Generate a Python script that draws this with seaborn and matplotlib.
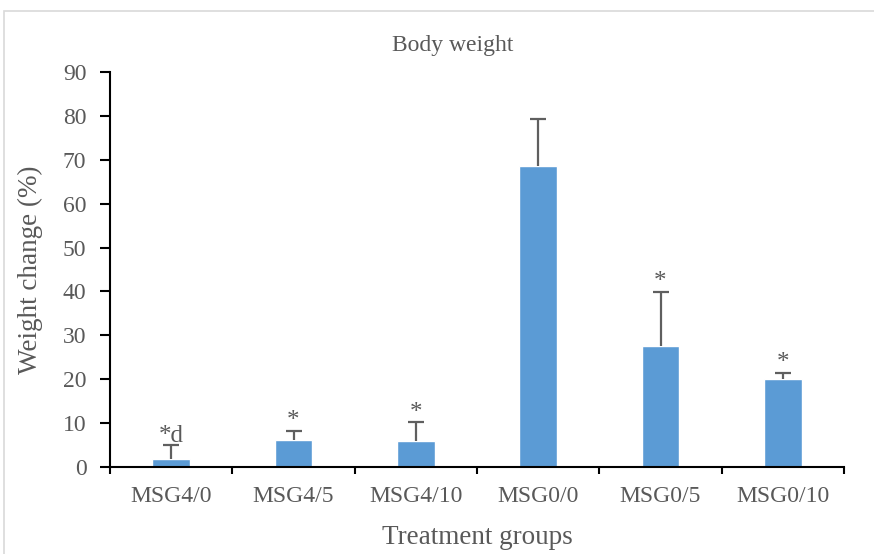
import numpy as np
import pandas as pd
import seaborn as sns
import matplotlib.pyplot as plt
from matplotlib.patches import Rectangle
from matplotlib.ticker import FixedLocator

# values
groups = ['MSG4/0', 'MSG4/5', 'MSG4/10', 'MSG0/0', 'MSG0/5', 'MSG0/10']
weight_change = [1.8, 6.1, 6.0, 68.6, 27.5, 20.1]
error_up = [3.1, 2.1, 4.2, 10.7, 12.4, 1.4]
marks = ['*d', '*', '*', '', '*', '*']

df = pd.DataFrame({'group': groups, 'change': weight_change})

sns.set_style('white')
plt.rcParams['font.family'] = ['Liberation Serif', 'DejaVu Serif']
text_col = '#595959'

fig = plt.figure(figsize=(8.74, 5.54), dpi=100)
ax = fig.add_axes([110 / 874, 1 - 467 / 554, (844 - 110) / 874, (467 - 72) / 554])

sns.barplot(data=df, x='group', y='change', color='#5B9BD5', width=0.31,
            saturation=1, ax=ax)

xpos = np.arange(len(groups))
_, caps, _ = ax.errorbar(xpos, weight_change, yerr=[np.zeros(len(groups)), error_up],
                         fmt='none', ecolor='#5f5f5f', elinewidth=1.6,
                         capsize=6, capthick=1.6)
# only the upper cap, like the one-sided Excel error bars
caps[0].set_visible(False)

for x, y, e, m in zip(xpos, weight_change, error_up, marks):
    if m:
        ax.annotate(m, (x, y + e), xytext=(0, -1), textcoords='offset points',
                    ha='center', va='bottom', fontsize=18, color=text_col)

ax.set_ylim(0, 90)
ax.set_yticks(range(0, 91, 10))
ax.set_xlim(-0.5, len(groups) - 0.5)

for side in ['top', 'right']:
    ax.spines[side].set_visible(False)
for side in ['left', 'bottom']:
    ax.spines[side].set_color('black')
    ax.spines[side].set_linewidth(1.5)

ax.xaxis.set_minor_locator(FixedLocator(np.arange(-0.5, len(groups), 1.0)))
ax.tick_params(axis='x', which='major', length=0, pad=14, labelsize=17, labelcolor=text_col)
ax.tick_params(axis='x', which='minor', bottom=True, length=5, width=1.5, color='black')
ax.tick_params(axis='y', left=True, length=7, width=1.5, color='black', pad=10,
               labelsize=17, labelcolor=text_col)

ax.set_xlabel('Treatment groups', fontsize=19.5, color=text_col, labelpad=13)
ax.set_ylabel('Weight change (%)', fontsize=19.5, color=text_col, labelpad=14)
fig.text(453 / 874, 1 - 45 / 554, 'Body weight', fontsize=17, color=text_col,
         ha='center', va='center')

# light chart-area border like the source
fig.patches.append(Rectangle((4 / 874, -0.1), 1.2, 1 - 11 / 554 + 0.1,
                             transform=fig.transFigure, fill=False,
                             edgecolor='#d9d9d9', linewidth=1.2))

fig.savefig('out.png', dpi=100)
